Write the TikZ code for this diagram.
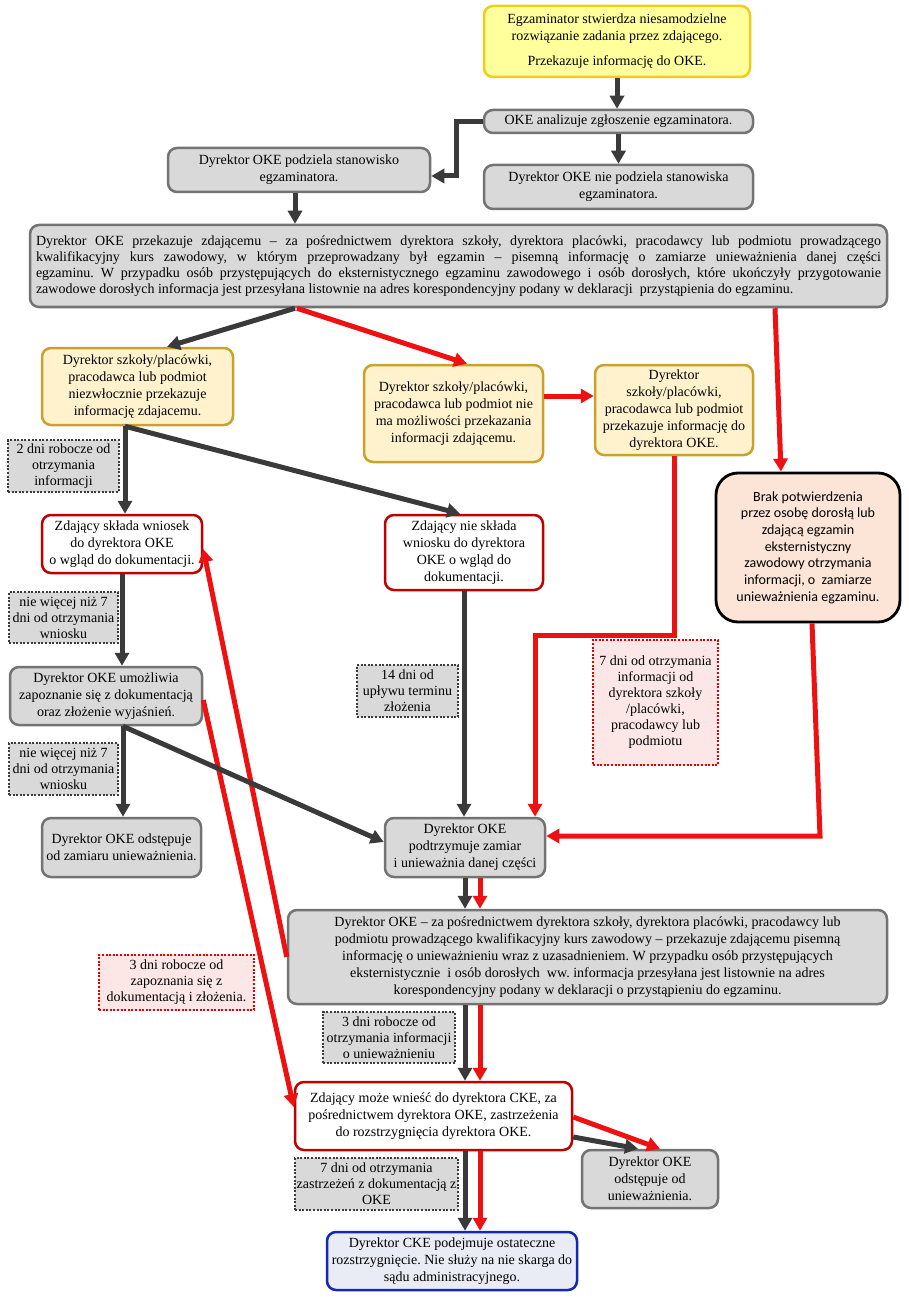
\documentclass[tikz,border=0pt]{standalone}
\usepackage{fontspec}
\setmainfont{Liberation Serif}
\newfontfamily\calib{Carlito}
\usetikzlibrary{arrows.meta}
\frenchspacing
\definecolor{boxgray}{HTML}{D9D9D9}
\definecolor{bordgray}{HTML}{737373}
\definecolor{yelfill}{HTML}{FFFF9C}
\definecolor{yeldraw}{HTML}{F0CC1E}
\definecolor{crfill}{HTML}{FFF2CC}
\definecolor{crdraw}{HTML}{C9A12E}
\definecolor{redbord}{HTML}{C00000}
\definecolor{peach}{HTML}{FCE4D6}
\definecolor{bluedraw}{HTML}{1428B0}
\definecolor{bluefill}{HTML}{E9EBF5}
\definecolor{pinkfill}{HTML}{FCE6E6}
\definecolor{pinkdraw}{HTML}{E00000}
\definecolor{dotdraw}{HTML}{3C3C3C}
\definecolor{darkline}{HTML}{3A3A3A}
\definecolor{redline}{HTML}{EE1111}
\newcommand\jl[1]{\hbox to 845pt{#1}}
\begin{document}
\begin{tikzpicture}[x=1pt,y=-1pt,
  base/.style={rounded corners=9pt, line width=2.5pt, inner sep=2pt, font=\fontsize{14}{17}\selectfont},
  graybox/.style={base, align=center, fill=boxgray, draw=bordgray},
  yelbox/.style={base, align=center, fill=yelfill, draw=yeldraw},
  crbox/.style={base, align=center, fill=crfill, draw=crdraw},
  redbox/.style={base, align=center, fill=white, draw=redbord},
  bluebox/.style={base, align=center, fill=bluefill, draw=bluedraw},
  peachbox/.style={base, align=center, fill=peach, draw=black, line width=2.8pt, rounded corners=22pt, font=\calib\fontsize{14}{16.7}\selectfont},
  lab/.style={align=center, inner sep=1pt, line width=2.2pt, dash pattern=on 2pt off 1.6pt, fill=boxgray, draw=dotdraw, font=\fontsize{14}{16}\selectfont},
  pinklab/.style={lab, fill=pinkfill, draw=pinkdraw},
  dk/.style={draw=darkline, line width=5pt, -{Triangle[length=13pt,width=14pt]}},
  rd/.style={draw=redline, line width=5pt, -{Triangle[length=13pt,width=14pt]}}
]
\useasboundingbox (0,0) rectangle (908,1305);

% nodes
\node[yelbox, minimum width=266pt, minimum height=71pt] (n1) at (617,41.5)
  {Egzaminator stwierdza niesamodzielne\\rozwiązanie zadania przez zdającego.\\[8pt]Przekazuje informację do OKE.};
\node[graybox, minimum width=269pt, minimum height=23pt] (n2) at (618.5,121.5)
  {OKE analizuje zgłoszenie egzaminatora.};
\node[graybox, minimum width=262pt, minimum height=44pt] (n3) at (299,170)
  {Dyrektor OKE podziela stanowisko\\egzaminatora.};
\node[graybox, minimum width=269pt, minimum height=44pt] (n4) at (618.5,187)
  {Dyrektor OKE nie podziela stanowiska\\egzaminatora.};
\node[base, fill=boxgray, draw=bordgray, minimum width=857pt, minimum height=82pt, inner xsep=6pt] (n5) at (458.5,266)
  {\vbox{\hsize=845pt\fontsize{14}{16}\selectfont
  \jl{Dyrektor OKE przekazuje zdającemu – za pośrednictwem dyrektora szkoły, dyrektora placówki, pracodawcy lub podmiotu prowadzącego}
  \jl{kwalifikacyjny kurs zawodowy, w którym przeprowadzany był egzamin – pisemną informację o zamiarze unieważnienia danej części}
  \jl{egzaminu. W przypadku osób przystępujących do eksternistycznego egzaminu zawodowego i osób dorosłych, które ukończyły przygotowanie}
  \hbox{zawodowe dorosłych informacja jest przesyłana listownie na adres korespondencyjny podany w deklaracji \ przystąpienia do egzaminu.}}};
\node[crbox, minimum width=191pt, minimum height=77pt] (n6) at (137.5,386.5)
  {Dyrektor szkoły/placówki,\\pracodawca lub podmiot\\niezwłocznie przekazuje\\informację zdajacemu.};
\node[crbox, minimum width=179pt, minimum height=97pt] (n7) at (453.5,413.5)
  {Dyrektor szkoły/placówki,\\pracodawca lub podmiot nie\\ma możliwości przekazania\\informacji zdającemu.};
\node[crbox, minimum width=158pt, minimum height=90pt] (n8) at (674,410)
  {Dyrektor\\szkoły/placówki,\\pracodawca lub podmiot\\przekazuje informację do\\dyrektora OKE.};
\node[peachbox, minimum width=184pt, minimum height=149pt] (n9) at (808,547.5)
  {Brak potwierdzenia\\przez osobę dorosłą lub\\zdającą egzamin\\eksternistyczny\\zawodowy otrzymania\\informacji, o \ zamiarze\\unieważnienia egzaminu.};
\node[redbox, minimum width=160pt, minimum height=58pt] (n10) at (122,544)
  {Zdający składa wniosek\\do dyrektora OKE\\o wgląd do dokumentacji.};
\node[redbox, minimum width=158pt, minimum height=75pt] (n11) at (464,552.5)
  {Zdający nie składa\\wniosku do dyrektora\\OKE o wgląd do\\dokumentacji.};
\node[graybox, minimum width=192pt, minimum height=58pt] (n12) at (106,696)
  {Dyrektor OKE umożliwia\\zapoznanie się z dokumentacją\\oraz złożenie wyjaśnień.};
\node[graybox, minimum width=159pt, minimum height=59pt] (n13) at (121.5,847.5)
  {Dyrektor OKE odstępuje\\od zamiaru unieważnienia.};
\node[graybox, minimum width=160pt, minimum height=59pt] (n14) at (465,847.5)
  {Dyrektor OKE\\podtrzymuje zamiar\\i unieważnia danej części};
\node[graybox, minimum width=599pt, minimum height=94pt] (n15) at (587.5,957)
  {Dyrektor OKE – za pośrednictwem dyrektora szkoły, dyrektora placówki, pracodawcy lub\\podmiotu prowadzącego kwalifikacyjny kurs zawodowy – przekazuje zdającemu pisemną\\informację o unieważnieniu wraz z uzasadnieniem. W przypadku osób przystępujących\\eksternistycznie \ i osób dorosłych \ ww. informacja przesyłana jest listownie na adres\\korespondencyjny podany w deklaracji o przystąpieniu do egzaminu.};
\node[redbox, minimum width=277pt, minimum height=68pt] (n16) at (433.5,1116)
  {Zdający może wnieść do dyrektora CKE, za\\pośrednictwem dyrektora OKE, zastrzeżenia\\do rozstrzygnięcia dyrektora OKE.};
\node[graybox, minimum width=136pt, minimum height=58pt] (n17) at (650,1179)
  {Dyrektor OKE\\odstępuje od\\unieważnienia.};
\node[bluebox, minimum width=250pt, minimum height=58pt] (n18) at (452,1261)
  {Dyrektor CKE podejmuje ostateczne\\rozstrzygnięcie. Nie służy na nie skarga do\\sądu administracyjnego.};

% labels
\node[lab, minimum width=111pt, minimum height=52pt] (la) at (63.5,466) {2 dni robocze od\\otrzymania\\informacji};
\node[lab, minimum width=109pt, minimum height=51pt] (lb) at (63.5,617.5) {nie więcej niż 7\\dni od otrzymania\\wniosku};
\node[lab, minimum width=101pt, minimum height=52pt] (lc) at (407.5,691) {14 dni od\\upływu terminu\\złożenia};
\node[pinklab, minimum width=125pt, minimum height=125pt] (ld) at (655.5,702.5) {7 dni od otrzymania\\informacji od\\dyrektora szkoły\\/placówki,\\pracodawcy lub\\podmiotu};
\node[lab, minimum width=109pt, minimum height=52pt] (le) at (63.5,769) {nie więcej niż 7\\dni od otrzymania\\wniosku};
\node[pinklab, minimum width=155pt, minimum height=55pt] (lf) at (176.5,982.5) {3 dni robocze od\\zapoznania się z\\dokumentacją i złożenia.};
\node[lab, minimum width=132pt, minimum height=51pt] (lg) at (389,1037.5) {3 dni robocze od\\otrzymania informacji\\o unieważnieniu};
\node[lab, minimum width=163pt, minimum height=52pt] (lh) at (376.5,1184) {7 dni od otrzymania\\zastrzeżeń z dokumentacją z\\OKE};

% helper coordinates
\coordinate (k1) at (535,635);
\coordinate (k2) at (820,836);
\coordinate (xd) at (465,0);
\coordinate (xr) at (480,0);

% connectors
\draw[dk] (n1.south) -- (n1.south |- n2.north);
\draw[dk] (n2.west) -- ++(-26pt,0) |- ([yshift=-6pt]n3.east);
\draw[dk] (n2.south) -- (n2.south |- n4.north);
\draw[dk] ([xshift=-4pt]n3.south) -- ([xshift=-4pt]n3.south |- n5.north);
\draw[dk] ([xshift=-163.5pt]n5.south) -- ([xshift=29.5pt]n6.north);
\draw[rd] ([xshift=-161.5pt]n5.south) -- ([xshift=13.5pt]n7.north);
\draw[rd] ([xshift=316.5pt]n5.south) -- ([xshift=-27pt]n9.north);
\draw[rd] ([yshift=17.5pt]n7.east) -- ([yshift=17.5pt]n7.east -| n8.west);
\draw[dk] ([xshift=-12.5pt]n6.south) -- ([xshift=-12.5pt]n6.south |- n10.north);
\draw[dk] ([xshift=-12.5pt]n6.south) -- ([xshift=-4pt]n11.north);
\draw[dk] (n10.south) -- (n10.south |- n12.north);
\draw[dk] ([xshift=17pt]n12.south) -- ([xshift=17pt]n12.south |- n13.north);
\draw[dk] (n11.south) -- (n11.south |- n14.north);
\draw[rd] (n8.south) |- (k1) -- (k1 |- n14.north);
\draw[rd] ([xshift=4pt]n9.south) -- (k2) -- (k2 -| n14.east);
\draw[rd] (n15.west) -- ([yshift=-5pt]n10.east);
\draw[rd] ([yshift=-4pt]n12.east) -- ([yshift=9pt]n16.west);
\draw[dk] ([xshift=17pt]n12.south) -- ([yshift=5.5pt]n14.west);
\draw[dk] (xd |- n14.south) -- (xd |- n15.north);
\draw[rd] (xr |- n14.south) -- (xr |- n15.north);
\draw[dk] (xd |- n15.south) -- (xd |- n16.north);
\draw[rd] (xr |- n15.south) -- (xr |- n16.north);
\draw[dk] (xd |- n16.south) -- (xd |- n18.north);
\draw[rd] (xr |- n16.south) -- (xr |- n18.north);
\draw[rd] ([yshift=-1pt]n16.east) -- ([xshift=10pt]n17.north);
\draw[dk] ([yshift=-21pt]n16.east) -- ([xshift=-12pt]n17.north);
\end{tikzpicture}
\end{document}
